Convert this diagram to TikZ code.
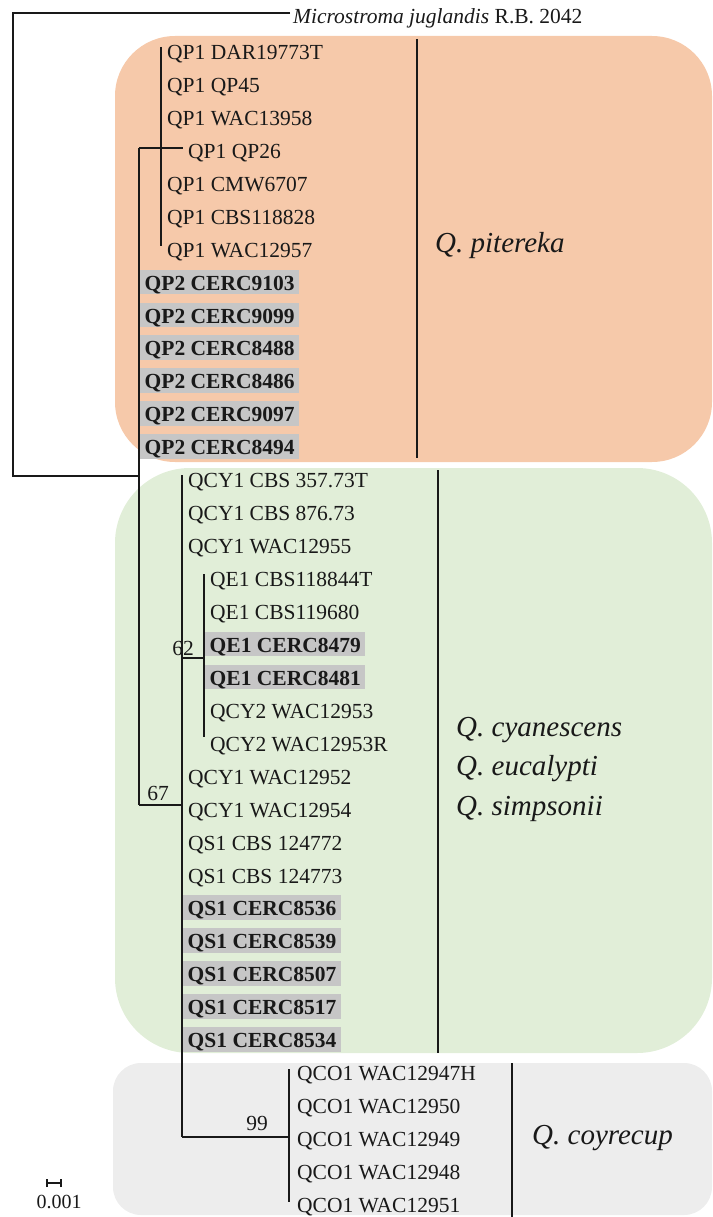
\documentclass[tikz,border=0pt]{standalone}
\usepackage{fontspec}
\setmainfont{Liberation Serif}

\definecolor{piterekafill}{RGB}{246,201,170}
\definecolor{cyanfill}{RGB}{225,238,216}
\definecolor{coyfill}{RGB}{237,237,237}
\definecolor{hlgray}{RGB}{198,198,198}
\definecolor{ink}{RGB}{25,25,25}

\begin{document}
\begin{tikzpicture}[x=1pt,y=-1pt,
  branch/.style={draw=ink, line width=1.3pt},
  cladebar/.style={draw=ink, line width=2.6pt},
  taxon/.style={anchor=base west, inner sep=0pt, text=ink,
    font=\fontsize{21.5}{24}\selectfont},
  hltaxon/.style={anchor=base west, inner ysep=0pt, inner xsep=4.5pt,
    text height=20.5pt, text depth=4pt, fill=hlgray, text=ink,
    font=\fontsize{21.5}{24}\selectfont\bfseries},
  support/.style={inner sep=0pt, text=ink, font=\fontsize{21.5}{24}\selectfont},
  species/.style={anchor=base west, inner sep=0pt, text=ink,
    font=\fontsize{29}{32}\selectfont\itshape}]
\useasboundingbox (0,0) rectangle (712,1217);

% clade backgrounds
\fill[piterekafill, rounded corners=60pt] (115,36) rectangle (712,462);
\fill[cyanfill, rounded corners=75pt] (115,468) rectangle (712,1053);
\fill[coyfill, rounded corners=28pt] (113,1063) rectangle (712,1215);

% terminal taxa, one per row
\foreach \i/\x/\lab/\sty in {
  0/167/QP1 DAR19773T/taxon,
  1/167/QP1 QP45/taxon,
  2/167/QP1 WAC13958/taxon,
  3/188/QP1 QP26/taxon,
  4/167/QP1 CMW6707/taxon,
  5/167/QP1 CBS118828/taxon,
  6/167/QP1 WAC12957/taxon,
  7/140/QP2 CERC9103/hltaxon,
  8/140/QP2 CERC9099/hltaxon,
  9/140/QP2 CERC8488/hltaxon,
  10/140/QP2 CERC8486/hltaxon,
  11/140/QP2 CERC9097/hltaxon,
  12/140/QP2 CERC8494/hltaxon,
  13/188/QCY1 CBS 357.73T/taxon,
  14/188/QCY1 CBS 876.73/taxon,
  15/188/QCY1 WAC12955/taxon,
  16/210/QE1 CBS118844T/taxon,
  17/210/QE1 CBS119680/taxon,
  18/205/QE1 CERC8479/hltaxon,
  19/205/QE1 CERC8481/hltaxon,
  20/210/QCY2 WAC12953/taxon,
  21/210/QCY2 WAC12953R/taxon,
  22/188/QCY1 WAC12952/taxon,
  23/188/QCY1 WAC12954/taxon,
  24/188/QS1 CBS 124772/taxon,
  25/188/QS1 CBS 124773/taxon,
  26/183/QS1 CERC8536/hltaxon,
  27/183/QS1 CERC8539/hltaxon,
  28/183/QS1 CERC8507/hltaxon,
  29/183/QS1 CERC8517/hltaxon,
  30/183/QS1 CERC8534/hltaxon,
  31/297/QCO1 WAC12947H/taxon,
  32/297/QCO1 WAC12950/taxon,
  33/297/QCO1 WAC12949/taxon,
  34/297/QCO1 WAC12948/taxon,
  35/297/QCO1 WAC12951/taxon}
  \node[\sty] (t\i) at ({\x},{59.5+32.94*\i}) {\lab};

% outgroup
\node[taxon] (og) at (293,24) {\textit{Microstroma juglandis} R.B. 2042};

% internal nodes of the tree
\coordinate (ogtip)   at (290,13);
\coordinate (rootTop) at (13,13);
\coordinate (rootBot) at (13,476);
\coordinate (ingrp)   at (139,476);
\coordinate (qpJoin)  at (139,148);
\coordinate (cyJoin)  at (139,805);
\coordinate (qp1node) at (161,148);
\coordinate (qp1top)  at (161,47);
\coordinate (qp1bot)  at (161,246);
\coordinate (qp26tip) at (183,148);
\coordinate (cynode)  at (182,805);
\coordinate (cytop)   at (182,475);
\coordinate (cybot)   at (182,1137);
\coordinate (qenode)  at (204,658);
\coordinate (qetop)   at (204,574);
\coordinate (qebot)   at (204,737);
\coordinate (qconode) at (289,1137);
\coordinate (qcotop)  at (289,1069);
\coordinate (qcobot)  at (289,1202);

% branches
\draw[branch] (ogtip) -- (rootTop) -- (rootBot) -- (ingrp);
\draw[branch] (qpJoin) -- (cyJoin);
\draw[branch] (qpJoin) -- (qp1node) -- (qp26tip);
\draw[branch] (qp1top) -- (qp1bot);
\draw[branch] (cyJoin) -- (cynode);
\draw[branch] (cytop) -- (cybot);
\draw[branch] (cynode |- qenode) -- (qenode);
\draw[branch] (qetop) -- (qebot);
\draw[branch] (cybot) -- (qconode);
\draw[branch] (qcotop) -- (qcobot);

% bootstrap support
\node[support] (bs62) at (183,648) {62};
\node[support] (bs67) at (158,793) {67};
\node[support] (bs99) at (257,1123) {99};

% clade bars and species names
\draw[cladebar] (417,39) -- (417,458);
\draw[cladebar] (438,470) -- (438,1053);
\draw[cladebar] (512,1063) -- (512,1217);
\node[species] (pit) at (435,252) {Q. pitereka};
\node[species] (cya) at (456,736) {Q. cyanescens};
\node[species] (euc) at (456,775) {Q. eucalypti};
\node[species] (sim) at (456,815) {Q. simpsonii};
\node[species] (coy) at (532,1144) {Q. coyrecup};

% scale bar
\coordinate (sbL) at (47,1183);
\coordinate (sbR) at (61,1183);
\draw[branch, line width=1.1pt] (sbL) -- (sbR);
\draw[branch, line width=1.1pt] ([yshift=-4pt]sbL) -- ([yshift=4pt]sbL);
\draw[branch, line width=1.1pt] ([yshift=-4pt]sbR) -- ([yshift=4pt]sbR);
\node[support, font=\fontsize{20}{22}\selectfont] (sblab) at (59,1202) {0.001};
\end{tikzpicture}
\end{document}
